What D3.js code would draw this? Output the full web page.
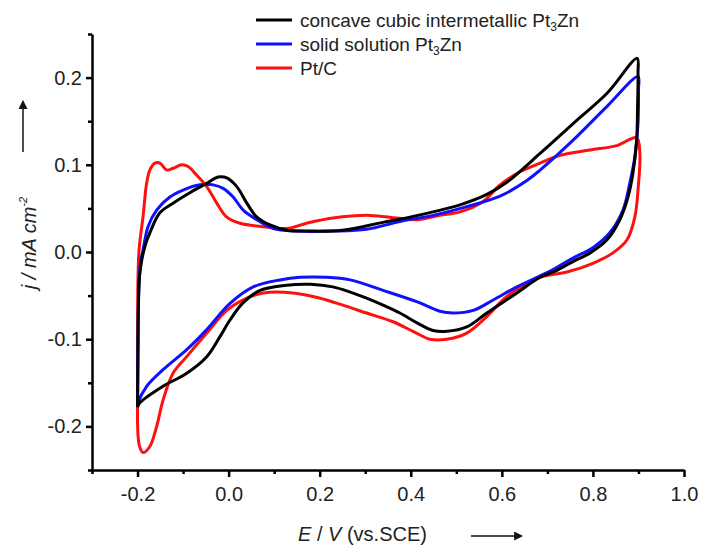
<!DOCTYPE html>
<html>
<head>
<meta charset="utf-8">
<script src="https://cdn.jsdelivr.net/npm/d3@7"></script>
<style>
  body { margin: 0; background: #fff; }
  svg { font-family: "Liberation Sans", Arial, sans-serif; }
  .axis path, .axis line { stroke: #000; stroke-width: 2.5; }
  .axis text { font-size: 20px; fill: #222; }
</style>
</head>
<body>
<svg id="chart" width="706" height="546"></svg>
<script>
// Series: [E (V vs. SCE), j (mA cm-2)], one closed CV loop each
const intermetallic = [
  [-0.200,-0.178],[-0.199,-0.120],[-0.198,-0.060],[-0.196,-0.030],[-0.191,-0.010],[-0.183,0.008],
  [-0.173,0.022],[-0.151,0.045],[-0.122,0.056],[-0.085,0.068],[-0.047,0.079],[-0.023,0.086],
  [-0.004,0.085],[0.018,0.075],[0.040,0.056],[0.062,0.040],[0.091,0.031],[0.128,0.025],
  [0.179,0.024],[0.250,0.025],[0.339,0.034],[0.398,0.040],[0.449,0.046],[0.508,0.054],
  [0.567,0.066],[0.611,0.080],[0.684,0.113],[0.756,0.147],[0.831,0.182],[0.897,0.222],
  [0.899,0.205],[0.898,0.166],[0.896,0.128],[0.888,0.091],[0.877,0.063],[0.859,0.037],
  [0.831,0.014],[0.794,-0.001],[0.756,-0.011],[0.721,-0.021],[0.684,-0.029],[0.633,-0.047],
  [0.567,-0.070],[0.523,-0.086],[0.479,-0.091],[0.449,-0.090],[0.413,-0.081],[0.376,-0.070],
  [0.339,-0.061],[0.303,-0.053],[0.267,-0.046],[0.229,-0.040],[0.180,-0.037],[0.128,-0.038],
  [0.069,-0.044],[0.032,-0.058],[0.003,-0.078],[-0.019,-0.097],[-0.048,-0.120],[-0.092,-0.139],
  [-0.144,-0.154],[-0.195,-0.173],[-0.200,-0.178]
];
const solidSolution = [
  [-0.200,-0.176],[-0.199,-0.100],[-0.197,-0.040],[-0.193,-0.010],[-0.188,0.002],[-0.177,0.029],
  [-0.158,0.048],[-0.129,0.063],[-0.100,0.071],[-0.063,0.077],[-0.034,0.077],[-0.012,0.073],
  [0.010,0.063],[0.032,0.048],[0.062,0.037],[0.098,0.027],[0.150,0.024],[0.230,0.024],
  [0.303,0.026],[0.376,0.035],[0.449,0.042],[0.523,0.052],[0.596,0.064],[0.655,0.082],
  [0.684,0.094],[0.756,0.128],[0.831,0.167],[0.899,0.201],
  [0.900,0.186],[0.899,0.148],[0.892,0.109],[0.881,0.079],[0.866,0.048],[0.837,0.022],
  [0.800,0.005],[0.756,-0.007],[0.706,-0.022],[0.633,-0.040],[0.581,-0.055],[0.537,-0.067],
  [0.493,-0.070],[0.464,-0.068],[0.413,-0.057],[0.339,-0.044],[0.267,-0.032],[0.215,-0.029],
  [0.157,-0.029],[0.113,-0.032],[0.054,-0.040],[0.003,-0.059],[-0.048,-0.089],[-0.092,-0.112],
  [-0.144,-0.135],[-0.180,-0.154],[-0.199,-0.173],[-0.200,-0.176]
];
const ptC = [
  [-0.200,-0.195],[-0.200,-0.100],[-0.199,-0.030],[-0.197,0.000],[-0.193,0.020],[-0.188,0.040],
  [-0.180,0.079],[-0.173,0.094],[-0.162,0.102],[-0.151,0.102],[-0.136,0.094],[-0.122,0.096],
  [-0.103,0.100],[-0.089,0.098],[-0.070,0.088],[-0.048,0.075],[-0.026,0.056],[-0.004,0.040],
  [0.025,0.033],[0.076,0.029],[0.128,0.027],[0.171,0.033],[0.229,0.039],[0.310,0.042],
  [0.369,0.039],[0.413,0.037],[0.464,0.042],[0.508,0.046],[0.559,0.058],[0.596,0.077],
  [0.640,0.092],[0.684,0.102],[0.728,0.111],[0.794,0.117],[0.852,0.122],[0.896,0.131],
  [0.903,0.114],[0.899,0.071],[0.892,0.040],[0.875,0.014],[0.844,-0.001],[0.800,-0.013],
  [0.743,-0.023],[0.684,-0.029],[0.611,-0.051],[0.567,-0.074],[0.523,-0.093],[0.479,-0.100],
  [0.442,-0.100],[0.405,-0.091],[0.361,-0.080],[0.303,-0.070],[0.251,-0.061],[0.201,-0.053],
  [0.141,-0.047],[0.076,-0.047],[0.040,-0.053],[-0.004,-0.067],[-0.048,-0.093],[-0.092,-0.120],
  [-0.122,-0.139],[-0.144,-0.170],[-0.158,-0.200],[-0.173,-0.223],[-0.188,-0.230],[-0.196,-0.222],
  [-0.200,-0.195]
];

const xTicks = [-0.2, 0.0, 0.2, 0.4, 0.6, 0.8, 1.0];
const xMinor = [-0.3, -0.1, 0.1, 0.3, 0.5, 0.7, 0.9];
const yTicks = [-0.2, -0.1, 0.0, 0.1, 0.2];
const yMinor = [-0.25, -0.15, -0.05, 0.05, 0.15, 0.25];

const series = [
  {name: "concave cubic intermetallic Pt", sub: "3", tail: "Zn", color: "#000000", data: intermetallic},
  {name: "solid solution Pt", sub: "3", tail: "Zn", color: "#1010ff", data: solidSolution},
  {name: "Pt/C", sub: "", tail: "", color: "#ff1010", data: ptC}
];

const svg = d3.select("#chart");

const x = d3.scaleLinear().domain([-0.3, 1.0]).range([92, 684]);
const y = d3.scaleLinear().domain([-0.25, 0.25]).range([470, 34]);

// curves (black drawn last so it sits on top)
const line = d3.line()
  .x(d => x(d[0]))
  .y(d => y(d[1]))
  .curve(d3.curveCatmullRom.alpha(0.5));

svg.append("g")
  .selectAll("path")
  .data([series[2], series[1], series[0]])
  .join("path")
    .attr("d", d => line(d.data))
    .attr("fill", "none")
    .attr("stroke", d => d.color)
    .attr("stroke-width", 3)
    .attr("stroke-linejoin", "round");

// axes
const fmt = d => d.toFixed(1);
svg.append("g")
  .attr("class", "axis")
  .attr("transform", `translate(0,${y(-0.25)})`)
  .call(d3.axisBottom(x).tickValues(xTicks).tickFormat(fmt).tickSize(7).tickPadding(10).tickSizeOuter(0));
svg.append("g")
  .attr("class", "axis")
  .attr("transform", `translate(0,${y(-0.25)})`)
  .call(d3.axisBottom(x).tickValues(xMinor).tickFormat("").tickSize(4).tickSizeOuter(0))
  .select(".domain").remove();

svg.append("g")
  .attr("class", "axis")
  .attr("transform", `translate(${x(-0.3)},0)`)
  .call(d3.axisLeft(y).tickValues(yTicks).tickFormat(fmt).tickSize(6).tickPadding(4).tickSizeOuter(0));
svg.append("g")
  .attr("class", "axis")
  .attr("transform", `translate(${x(-0.3)},0)`)
  .call(d3.axisLeft(y).tickValues(yMinor).tickFormat("").tickSize(4).tickSizeOuter(0))
  .select(".domain").remove();

// axis titles with arrows
svg.append("defs").append("marker")
  .attr("id", "head")
  .attr("viewBox", "0 0 10 10")
  .attr("refX", 1).attr("refY", 5)
  .attr("markerWidth", 6).attr("markerHeight", 6)
  .attr("orient", "auto")
  .append("path").attr("d", "M0,0L10,5L0,10Z").attr("fill", "#111");

const xTitle = svg.append("text")
  .attr("x", 298).attr("y", 541)
  .attr("font-size", 20).attr("fill", "#222");
xTitle.append("tspan").attr("font-style", "italic").text("E");
xTitle.append("tspan").text(" / ");
xTitle.append("tspan").attr("font-style", "italic").text("V");
xTitle.append("tspan").text(" (vs.SCE)");

svg.append("line")
  .attr("x1", 471).attr("x2", 515).attr("y1", 536).attr("y2", 536)
  .attr("stroke", "#111").attr("stroke-width", 1.5)
  .attr("marker-end", "url(#head)");

const yTitle = svg.append("text")
  .attr("transform", "translate(36,243) rotate(-90)")
  .attr("text-anchor", "middle")
  .attr("font-size", 20).attr("font-style", "italic").attr("fill", "#222");
yTitle.append("tspan").text("j / mA cm");
yTitle.append("tspan").attr("font-size", 11).attr("dy", -9).text("-2");

svg.append("line")
  .attr("x1", 23).attr("x2", 23).attr("y1", 152).attr("y2", 108)
  .attr("stroke", "#111").attr("stroke-width", 1.5)
  .attr("marker-end", "url(#head)");

// legend
const legend = svg.append("g")
  .selectAll("g")
  .data(series)
  .join("g")
    .attr("transform", (d, i) => `translate(256,${20 + i * 24})`);
legend.append("line")
  .attr("x1", 0).attr("x2", 36)
  .attr("stroke", d => d.color).attr("stroke-width", 3);
const label = legend.append("text")
  .attr("x", 44).attr("y", 7)
  .attr("font-size", 19).attr("fill", "#222");
label.append("tspan").text(d => d.name);
label.append("tspan").attr("font-size", 12).attr("dy", 4).text(d => d.sub);
label.append("tspan").attr("dy", d => d.sub ? -4 : 0).text(d => d.tail);
</script>
</body>
</html>
